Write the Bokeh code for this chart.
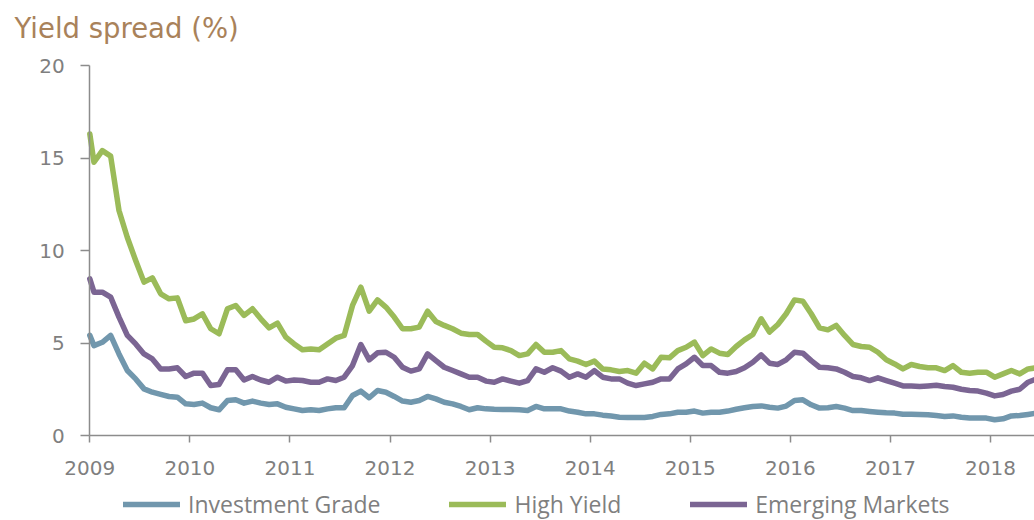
import pandas as pd
from bokeh.plotting import figure
from bokeh.models import FixedTicker, Legend, LegendItem, ColumnDataSource, Label
from bokeh.embed import file_html
from bokeh.resources import INLINE

# ---- data (spread, %) : first point at start of 2009, then one point per month (mid-month)
months = pd.date_range("2009-01-01", periods=114, freq="MS")
dates = [2009.0] + [d.year + (d.month - 0.5) / 12 for d in months]

investment_grade = [
    5.41,
    4.86, 5.04, 5.41, 4.41, 3.51, 3.06, 2.52, 2.34, 2.22, 2.11, 2.07, 1.71, 1.68, 1.75, 1.50, 1.39,
    1.89, 1.93, 1.75, 1.86, 1.75, 1.68, 1.71, 1.53, 1.44, 1.35, 1.39, 1.35, 1.44, 1.50, 1.50,
    2.16, 2.40, 2.04, 2.43, 2.34, 2.11, 1.86, 1.80, 1.89, 2.11, 1.98, 1.80, 1.71, 1.57, 1.39, 1.50,
    1.44, 1.42, 1.41, 1.41, 1.39, 1.35, 1.57, 1.44, 1.44, 1.44, 1.32, 1.26, 1.17, 1.17, 1.10, 1.05,
    0.99, 0.97, 0.97, 0.97, 1.03, 1.14, 1.17, 1.26,
    1.26, 1.32, 1.21, 1.26, 1.26, 1.32, 1.42, 1.50, 1.57, 1.60, 1.53, 1.48, 1.59, 1.89, 1.93, 1.66,
    1.48, 1.50, 1.57, 1.48, 1.35, 1.35, 1.30, 1.26, 1.23, 1.21, 1.15, 1.15, 1.14, 1.12, 1.08, 1.03,
    1.06, 0.99, 0.95, 0.95, 0.94, 0.85, 0.90, 1.06, 1.08, 1.14, 1.21,
]
high_yield = [
    16.3,
    14.77, 15.40, 15.10, 12.16, 10.70, 9.46, 8.29, 8.52, 7.66, 7.39, 7.44, 6.20, 6.30, 6.58, 5.77, 5.50,
    6.85, 7.03, 6.49, 6.85, 6.31, 5.82, 6.07, 5.32, 4.95, 4.63, 4.67, 4.63, 4.95, 5.26, 5.41,
    7.03, 8.02, 6.72, 7.33, 6.94, 6.40, 5.77, 5.77, 5.86, 6.72, 6.16, 5.95, 5.77, 5.53, 5.46, 5.46,
    5.10, 4.77, 4.74, 4.59, 4.32, 4.41, 4.92, 4.50, 4.50, 4.59, 4.14, 4.02, 3.84, 4.02, 3.60, 3.55,
    3.46, 3.51, 3.37, 3.91, 3.60, 4.23, 4.20, 4.59,
    4.77, 5.05, 4.32, 4.68, 4.45, 4.38, 4.81, 5.17, 5.46, 6.31, 5.59, 6.00, 6.58, 7.33, 7.26, 6.58,
    5.82, 5.71, 5.95, 5.41, 4.92, 4.81, 4.77, 4.50, 4.09, 3.87, 3.60, 3.84, 3.73, 3.66, 3.66, 3.51,
    3.78, 3.42, 3.37, 3.42, 3.42, 3.15, 3.33, 3.51, 3.33, 3.60, 3.66,
]
emerging_markets = [
    8.47,
    7.75, 7.75, 7.48, 6.40, 5.41, 4.95, 4.41, 4.14, 3.60, 3.60, 3.66, 3.19, 3.37, 3.37, 2.70, 2.76,
    3.55, 3.55, 3.00, 3.19, 3.00, 2.88, 3.15, 2.94, 3.00, 2.97, 2.88, 2.88, 3.06, 2.97, 3.15,
    3.78, 4.92, 4.09, 4.47, 4.50, 4.23, 3.69, 3.48, 3.60, 4.41, 4.05, 3.69, 3.51, 3.33, 3.15, 3.15,
    2.94, 2.88, 3.06, 2.94, 2.83, 2.97, 3.60, 3.42, 3.66, 3.48, 3.15, 3.33, 3.15, 3.51, 3.15, 3.06,
    3.06, 2.83, 2.70, 2.79, 2.88, 3.06, 3.06, 3.60,
    3.87, 4.23, 3.78, 3.78, 3.42, 3.37, 3.46, 3.66, 3.96, 4.36, 3.91, 3.84, 4.09, 4.50, 4.45, 4.05,
    3.69, 3.66, 3.60, 3.42, 3.19, 3.12, 2.97, 3.12, 2.97, 2.83, 2.68, 2.68, 2.65, 2.68, 2.72, 2.65,
    2.61, 2.50, 2.43, 2.40, 2.29, 2.14, 2.22, 2.40, 2.50, 2.88, 3.06,
]

series_names = ["Investment Grade", "High Yield", "Emerging Markets"]
series_colors = ["#7197AD", "#9BBB59", "#7B6593"]
year_ticks = [2009, 2010, 2011, 2012, 2013, 2014, 2015, 2016, 2017, 2018]
y_ticks = [0, 5, 10, 15, 20]
title_text = "Yield spread (%)"

AXIS = "#8C8C8C"
LABEL = "#7F7F7F"

W, H = 1034, 520
PX_YEAR, PX_UNIT = 100.08, 18.5          # axis scale (pixels per year / per %)
AX_X, AX_Y = 89.3, 435                   # pixel position of the axes' origin
x0 = 2009 - AX_X / PX_YEAR
x1 = 2009 + (W - AX_X) / PX_YEAR
y0 = -(H - AX_Y) / PX_UNIT
y1 = AX_Y / PX_UNIT

p = figure(
    width=W, height=H,
    x_range=(x0, x1), y_range=(y0, y1),
    output_backend="svg", toolbar_location=None,
    min_border=0,
)
p.outline_line_color = None
p.xgrid.visible = False
p.ygrid.visible = False

src = ColumnDataSource(dict(x=dates, ig=investment_grade, hy=high_yield, em=emerging_markets))
renderers = []
for col, color in zip(["ig", "hy", "em"], series_colors):
    r = p.line("x", col, source=src, line_color=color, line_width=5.5,
               line_join="round", line_cap="round")
    renderers.append(r)

for ax in (p.xaxis[0], p.yaxis[0]):
    ax.axis_line_color = AXIS
    ax.axis_line_width = 1.5
    ax.major_tick_line_color = AXIS
    ax.major_tick_line_width = 1.5
    ax.major_tick_in = 0
    ax.minor_tick_line_color = None
    ax.major_label_text_font = "DejaVu Sans"
    ax.major_label_text_font_size = "20px"
    ax.major_label_text_color = LABEL

p.xaxis.fixed_location = 0
p.xaxis.bounds = (2009, x1)
p.xaxis.ticker = FixedTicker(ticks=year_ticks)
p.xaxis.major_label_overrides = {y: str(y) for y in year_ticks}
p.xaxis.major_tick_out = 7
p.xaxis.major_label_standoff = 18

p.yaxis.fixed_location = 2009
p.yaxis.bounds = (0, 20)
p.yaxis.ticker = FixedTicker(ticks=y_ticks)
p.yaxis.major_tick_out = 9
p.yaxis.major_label_standoff = 16

title = Label(
    x=14, y=H - 27, x_units="screen", y_units="screen", text=title_text,
    text_font="DejaVu Sans", text_font_size="27.5px", text_color="#A9825A",
    text_baseline="alphabetic", text_align="left",
)
p.add_layout(title)

legend = Legend(
    items=[LegendItem(label=n, renderers=[r]) for n, r in zip(series_names, renderers)],
    orientation="horizontal", location=(123, 0),
    glyph_width=57, glyph_height=20, label_standoff=8, spacing=69,
    padding=0, margin=0, border_line_color=None, background_fill_alpha=0,
    label_text_font="Open Sans", label_text_font_size="23px", label_text_color=LABEL,
)
p.add_layout(legend)

open("out.html", "w").write(file_html(p, INLINE))
